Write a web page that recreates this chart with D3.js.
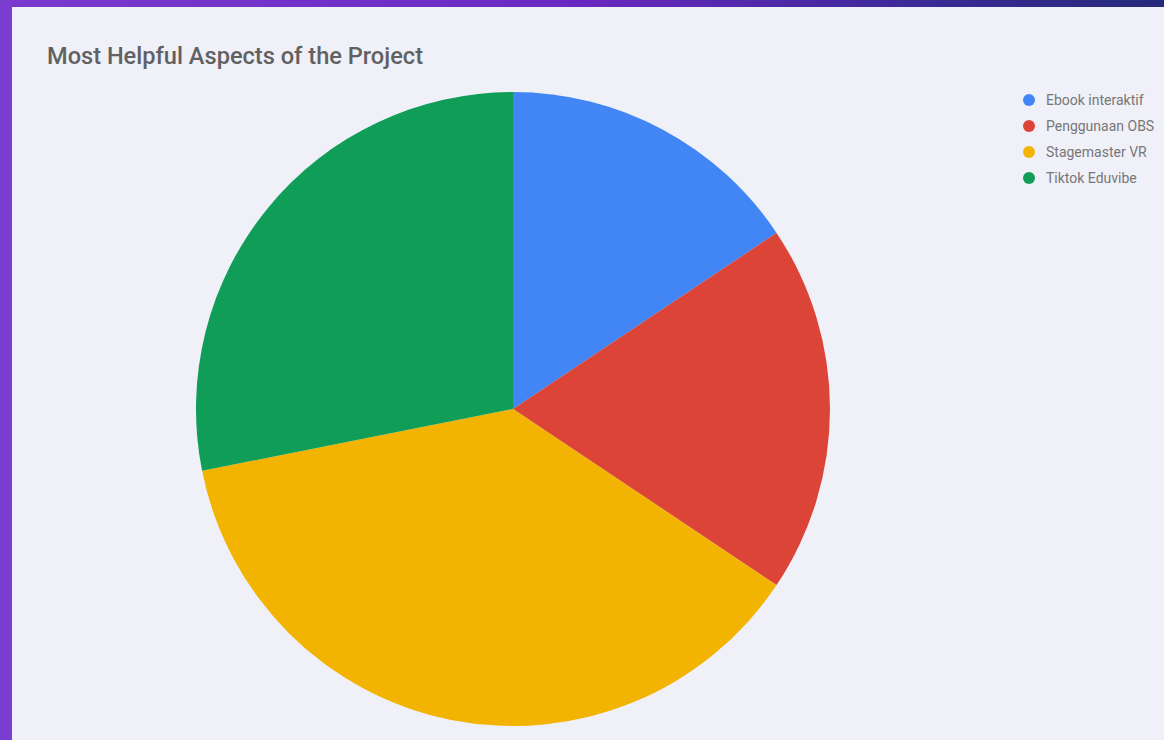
<!DOCTYPE html>
<html><head><meta charset="utf-8">
<script src="https://cdn.jsdelivr.net/npm/d3@7"></script>
<style>html,body{margin:0;padding:0;width:1164px;height:740px;overflow:hidden;}</style>
</head><body>
<svg id="c" width="1164" height="740"></svg>
<script>
const categories = ["Ebook interaktif", "Penggunaan OBS", "Stagemaster VR", "Tiktok Eduvibe"];
const values = [5, 6, 12, 9];
const colors = ["#4285F4", "#DB4437", "#F2B400", "#0F9D58"];
const title = "Most Helpful Aspects of the Project";

const svg = d3.select("#c");
const defs = svg.append("defs");
const g1 = defs.append("linearGradient").attr("id","bg").attr("x1","0").attr("x2","1").attr("y1","0").attr("y2","0");
g1.append("stop").attr("offset","0").attr("stop-color","#7a3acf");
g1.append("stop").attr("offset","0.5").attr("stop-color","#6a28c0");
g1.append("stop").attr("offset","0.8").attr("stop-color","#3a2a95");
g1.append("stop").attr("offset","1").attr("stop-color","#252a7a");
svg.append("rect").attr("width",1164).attr("height",740).attr("fill","url(#bg)");
svg.append("rect").attr("x",0).attr("y",0).attr("width",12).attr("height",740).attr("fill","#7b3dd0");
svg.append("rect").attr("x",12).attr("y",7).attr("width",1152).attr("height",733).attr("fill","#eff0f8");

svg.append("text").attr("x",47).attr("y",64).text(title)
  .attr("font-family","Roboto, sans-serif").attr("font-size",23.6).attr("font-weight",500).attr("fill","#616161");

const cx = 513, cy = 409, r = 317;
const pie = d3.pie().sort(null).value(d => d)(values);
const arc = d3.arc().innerRadius(0).outerRadius(r);
svg.append("g").attr("transform",`translate(${cx},${cy})`)
  .selectAll("path").data(pie).join("path")
  .attr("d", arc).attr("fill", (d,i) => colors[i]);

const leg = svg.append("g").attr("transform","translate(1029,100)");
const step = 26;
categories.forEach((c,i) => {
  const row = leg.append("g").attr("transform",`translate(0,${i*step})`);
  row.append("circle").attr("r",6).attr("fill",colors[i]);
  row.append("text").attr("x",17).attr("y",5).text(c)
    .attr("font-family","Roboto, sans-serif").attr("font-size",14).attr("fill","#777777");
});
</script>
</body></html>
